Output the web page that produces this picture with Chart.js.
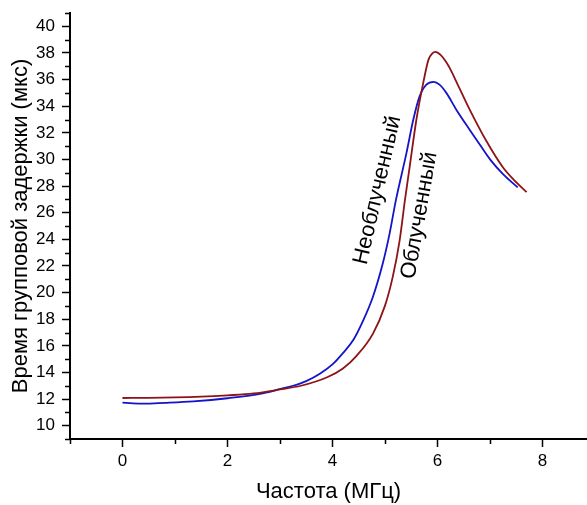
<!DOCTYPE html>
<html>
<head>
<meta charset="utf-8">
<script src="https://cdn.jsdelivr.net/npm/chart.js@4.4.0/dist/chart.umd.min.js"></script>
<style>
  html, body { margin: 0; padding: 0; background: #fff; }
  #wrap { width: 587px; height: 505px; }
</style>
</head>
<body>
<div id="wrap"><canvas id="chart" width="587" height="505"></canvas></div>
<script>
// Облученный (red)
const freqIrr = [0, 0.5, 1, 1.5, 2, 2.5, 3, 3.4, 3.9, 4.2, 4.46, 4.77, 5.0, 5.15, 5.28, 5.38, 5.47, 5.6, 5.73, 5.83, 5.9, 5.96, 6.06, 6.17, 6.27, 6.36, 6.62, 6.93, 7.25, 7.5, 7.7];
const delayIrr = [12.08, 12.09, 12.12, 12.18, 12.28, 12.42, 12.72, 13.0, 13.64, 14.3, 15.25, 16.9, 19.0, 21.2, 23.9, 26.9, 29.4, 33.0, 35.75, 37.5, 37.95, 38.08, 37.85, 37.3, 36.6, 35.85, 33.7, 31.4, 29.4, 28.3, 27.55];

// Необлученный (blue)
const freqRef = [0, 0.2, 0.4, 0.8, 1.35, 2.0, 2.62, 3.0, 3.25, 3.5, 3.76, 4.0, 4.2, 4.4, 4.58, 4.77, 4.96, 5.09, 5.21, 5.41, 5.54, 5.66, 5.79, 5.93, 6.04, 6.17, 6.36, 6.62, 6.81, 7.01, 7.25, 7.53];
const delayRef = [11.73, 11.68, 11.66, 11.72, 11.83, 12.06, 12.39, 12.75, 13.0, 13.35, 13.9, 14.6, 15.45, 16.45, 17.85, 19.67, 22.2, 24.45, 26.96, 30.47, 32.98, 34.74, 35.62, 35.83, 35.62, 35.0, 33.74, 32.2, 31.1, 29.97, 28.9, 27.9];

const xTitle = 'Частота (МГц)';
const yTitle = 'Время групповой задержки (мкс)';

// curve labels: text, x, y (data units), angle
const curveLabels = [
  { text: 'Необлученный', x: 4.86, y: 27.7, angle: -77 },
  { text: 'Облученный', x: 5.66, y: 25.8, angle: -80 }
];

const FONT = '"Liberation Sans", Arial, sans-serif';

function toPoints(xs, ys) {
  return xs.map((x, i) => ({ x: x, y: ys[i] }));
}

// short ticks at odd values + rotated curve labels
const extras = {
  id: 'extras',
  afterDraw(chart) {
    const ctx = chart.ctx;
    const xs = chart.scales.x, ys = chart.scales.y;
    const area = chart.chartArea;
    ctx.save();
    ctx.strokeStyle = '#000';
    ctx.lineWidth = 1.5;
    ctx.beginPath();
    for (let v = -1; v <= 8; v += 2) {
      const px = Math.round(xs.getPixelForValue(v)) + 0.5;
      ctx.moveTo(px, area.bottom);
      ctx.lineTo(px, area.bottom + 5);
    }
    for (let v = 9; v <= 41; v += 2) {
      const py = Math.round(ys.getPixelForValue(v)) + 0.5;
      ctx.moveTo(area.left, py);
      ctx.lineTo(area.left - 5, py);
    }
    ctx.stroke();

    ctx.fillStyle = '#000';
    ctx.font = '22px ' + FONT;
    ctx.textAlign = 'center';
    ctx.textBaseline = 'middle';
    curveLabels.forEach(l => {
      ctx.save();
      ctx.translate(xs.getPixelForValue(l.x), ys.getPixelForValue(l.y));
      ctx.rotate(l.angle * Math.PI / 180);
      ctx.fillText(l.text, 0, 0);
      ctx.restore();
    });
    ctx.restore();
  }
};

const ctx = document.getElementById('chart').getContext('2d');
new Chart(ctx, {
  type: 'line',
  data: {
    datasets: [
      {
        label: 'Облученный',
        data: toPoints(freqIrr, delayIrr),
        borderColor: 'rgb(140,20,25)',
        borderWidth: 1.8,
        pointRadius: 0,
        fill: false,
        cubicInterpolationMode: 'monotone'
      },
      {
        label: 'Необлученный',
        data: toPoints(freqRef, delayRef),
        borderColor: 'rgb(20,20,200)',
        borderWidth: 1.8,
        pointRadius: 0,
        fill: false,
        cubicInterpolationMode: 'monotone'
      }
    ]
  },
  options: {
    responsive: false,
    animation: false,
    layout: { padding: { top: 13, right: 0, left: 0, bottom: 0 } },
    plugins: {
      legend: { display: false },
      tooltip: { enabled: false }
    },
    scales: {
      x: {
        type: 'linear',
        min: -1,
        max: 8.85,
        afterFit(scale) { scale.height = 66; },
        border: { display: true, color: '#000', width: 2 },
        grid: {
          drawOnChartArea: false,
          drawTicks: true,
          tickLength: 8,
          tickWidth: 1.5,
          tickColor: c => (c.tick && c.tick.value % 2 === 0) ? '#000' : 'rgba(0,0,0,0)'
        },
        ticks: {
          stepSize: 1,
          includeBounds: false,
          autoSkip: false,
          maxRotation: 0,
          padding: 4,
          color: '#000',
          font: { family: FONT, size: 17 },
          callback: v => (v % 2 === 0 ? String(v) : '')
        },
        title: {
          display: true,
          text: xTitle,
          color: '#000',
          font: { family: FONT, size: 22 },
          padding: { top: 0, bottom: 0 }
        }
      },
      y: {
        type: 'linear',
        min: 9,
        max: 41,
        afterFit(scale) {
          scale.width = 70;
          scale.paddingTop = 0;
          scale.paddingBottom = 0;
        },
        border: { display: true, color: '#000', width: 2 },
        grid: {
          drawOnChartArea: false,
          drawTicks: true,
          tickLength: 8,
          tickWidth: 1.5,
          tickColor: c => (c.tick && c.tick.value % 2 === 0) ? '#000' : 'rgba(0,0,0,0)'
        },
        ticks: {
          stepSize: 1,
          autoSkip: false,
          padding: 7,
          color: '#000',
          font: { family: FONT, size: 17 },
          callback: v => (v % 2 === 0 && v >= 10 && v <= 40 ? String(v) : '')
        },
        title: {
          display: true,
          text: yTitle,
          color: '#000',
          font: { family: FONT, size: 22 },
          padding: { top: 8, bottom: 0 }
        }
      }
    }
  },
  plugins: [extras]
});
</script>
</body>
</html>
